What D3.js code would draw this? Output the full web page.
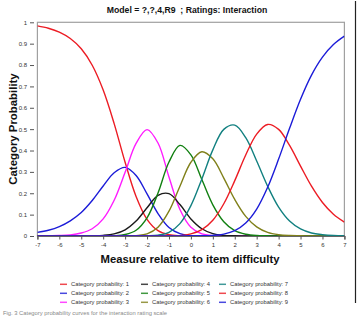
<!DOCTYPE html>
<html>
<head>
<script src="https://cdn.jsdelivr.net/npm/d3@7"></script>
<style>
body { margin: 0; background: #fff; }
svg text { font-family: 'Liberation Sans', Arial, Helvetica, sans-serif; }
</style>
</head>
<body>
<div id="chart"></div>
<script>
// measure relative to item difficulty, sampled every 0.5 logits
var measures = [-7, -6.5, -6, -5.5, -5, -4.5, -4, -3.5, -3, -2.5, -2, -1.5, -1, -0.5, 0,
                0.5, 1, 1.5, 2, 2.5, 3, 3.5, 4, 4.5, 5, 5.5, 6, 6.5, 7];

// category probabilities
var cat1 = [0.983, 0.972, 0.954, 0.924, 0.876, 0.799, 0.683, 0.526, 0.345, 0.185, 0.078, 0.025, 0.006, 0.001, 0,
            0, 0, 0, 0, 0, 0, 0, 0, 0, 0, 0, 0, 0, 0];
var cat2 = [0.017, 0.027, 0.044, 0.071, 0.110, 0.166, 0.234, 0.296, 0.321, 0.283, 0.197, 0.105, 0.040, 0.011, 0.002,
            0, 0, 0, 0, 0, 0, 0, 0, 0, 0, 0, 0, 0, 0];
var cat3 = [0, 0.001, 0.002, 0.005, 0.014, 0.034, 0.080, 0.167, 0.298, 0.433, 0.498, 0.435, 0.276, 0.124, 0.041,
            0.010, 0.002, 0, 0, 0, 0, 0, 0, 0, 0, 0, 0, 0, 0];
var cat4 = [0, 0, 0, 0, 0, 0.001, 0.003, 0.010, 0.029, 0.070, 0.132, 0.190, 0.198, 0.147, 0.080,
            0.034, 0.011, 0.003, 0.001, 0, 0, 0, 0, 0, 0, 0, 0, 0, 0];
var cat5 = [0, 0, 0, 0, 0, 0, 0, 0.001, 0.007, 0.027, 0.085, 0.201, 0.346, 0.424, 0.380,
            0.264, 0.146, 0.067, 0.025, 0.008, 0.002, 0.001, 0, 0, 0, 0, 0, 0, 0];
var cat6 = [0, 0, 0, 0, 0, 0, 0, 0, 0, 0.002, 0.010, 0.041, 0.116, 0.233, 0.345,
            0.394, 0.361, 0.271, 0.171, 0.092, 0.043, 0.017, 0.006, 0.002, 0.001, 0, 0, 0, 0];
var cat7 = [0, 0, 0, 0, 0, 0, 0, 0, 0, 0, 0.001, 0.004, 0.017, 0.058, 0.142,
            0.267, 0.403, 0.499, 0.519, 0.460, 0.351, 0.233, 0.135, 0.070, 0.033, 0.014, 0.006, 0.002, 0.001];
var cat8 = [0, 0, 0, 0, 0, 0, 0, 0, 0, 0, 0, 0, 0, 0.002, 0.010,
            0.030, 0.074, 0.151, 0.259, 0.379, 0.477, 0.522, 0.499, 0.424, 0.327, 0.233, 0.157, 0.102, 0.065];
var cat9 = [0, 0, 0, 0, 0, 0, 0, 0, 0, 0, 0, 0, 0, 0, 0,
            0.001, 0.003, 0.009, 0.025, 0.061, 0.126, 0.228, 0.360, 0.504, 0.640, 0.753, 0.837, 0.896, 0.935];

var seriesNames = ['Category probability: 1', 'Category probability: 2', 'Category probability: 3',
                   'Category probability: 4', 'Category probability: 5', 'Category probability: 6',
                   'Category probability: 7', 'Category probability: 8', 'Category probability: 9'];
var xTicks = [-7, -6, -5, -4, -3, -2, -1, 0, 1, 2, 3, 4, 5, 6, 7];
var yTicks = [0, 0.1, 0.2, 0.3, 0.4, 0.5, 0.6, 0.7, 0.8, 0.9, 1];

var series = [cat1, cat2, cat3, cat4, cat5, cat6, cat7, cat8, cat9];
var colors = ['#ec1c24', '#1c1cd8', '#ff1cff', '#1a1a1a', '#128012', '#80801a', '#128080', '#ec1c24', '#1c1cd8'];

var W = 358, H = 317;
var svg = d3.select('#chart').append('svg').attr('width', W).attr('height', H);

var x = d3.scaleLinear().domain([-7, 7]).range([37.4, 344.4]);
var y = d3.scaleLinear().domain([0, 1]).range([236, 22.3]);

// plot frame
svg.append('rect')
    .attr('x', x(-7)).attr('y', y(1))
    .attr('width', x(7) - x(-7)).attr('height', y(0) - y(1))
    .attr('fill', 'none').attr('stroke', '#a0a0a0').attr('stroke-width', 1.2);

// title (keeps the double space)
svg.append('text')
    .attr('x', 187).attr('y', 12.7)
    .attr('text-anchor', 'middle').attr('font-size', 8.7).attr('font-weight', 'bold').attr('fill', '#111')
    .style('white-space', 'pre')
    .text('Model = ?,?,4,R9  ; Ratings: Interaction');

// axes (plain hyphen for negatives, like the original)
var yAxis = svg.append('g')
    .attr('transform', 'translate(34,0)')
    .call(d3.axisLeft(y).tickValues(yTicks).tickSize(4).tickPadding(3)
        .tickFormat(function(d){ return String(+d.toFixed(1)); }));
yAxis.select('.domain').remove();
yAxis.selectAll('line').attr('stroke', '#555');
yAxis.selectAll('text').attr('font-size', 6).attr('fill', '#333').style('font-family', 'Liberation Sans, Arial, sans-serif');

var xAxis = svg.append('g')
    .attr('transform', 'translate(0,' + y(0) + ')')
    .call(d3.axisBottom(x).tickValues(xTicks).tickSize(3.5).tickPadding(3.2)
        .tickFormat(function(d){ return String(d); }));
xAxis.select('.domain').attr('stroke', '#666').attr('stroke-width', 1.2);
xAxis.selectAll('line').attr('stroke', '#555');
xAxis.selectAll('text').attr('font-size', 6).attr('fill', '#333').style('font-family', 'Liberation Sans, Arial, sans-serif');

// axis titles
svg.append('text')
    .attr('transform', 'translate(16.6,129) rotate(-90)')
    .attr('text-anchor', 'middle').attr('font-size', 11.4).attr('font-weight', 'bold').attr('fill', '#111')
    .text('Category Probability');
svg.append('text')
    .attr('x', 190).attr('y', 262.7)
    .attr('text-anchor', 'middle').attr('font-size', 11.3).attr('font-weight', 'bold').attr('fill', '#111')
    .text('Measure relative to item difficulty');

// curves
svg.append('clipPath').attr('id', 'plot-clip')
    .append('rect')
    .attr('x', x(-7)).attr('y', y(1) - 1)
    .attr('width', x(7) - x(-7)).attr('height', y(0) - y(1) + 1);

var line = d3.line()
    .x(function(d){ return x(d[0]); })
    .y(function(d){ return y(d[1]); })
    .curve(d3.curveCatmullRom.alpha(0.5));

var curves = svg.append('g').attr('clip-path', 'url(#plot-clip)');
series.forEach(function(vals, k) {
    curves.append('path')
        .attr('d', line(measures.map(function(m, i){ return [m, vals[i]]; })))
        .attr('fill', 'none')
        .attr('stroke', colors[k])
        .attr('stroke-width', 1.4);
});

// legend, filled column by column
var LEGEND_COLS = [60, 141, 219];
var LEGEND_ROWS = [284.3, 293.3, 302.3];
seriesNames.forEach(function(name, k) {
    var lx = LEGEND_COLS[Math.floor(k / 3)];
    var ly = LEGEND_ROWS[k % 3];
    svg.append('line')
        .attr('x1', lx).attr('x2', lx + 7).attr('y1', ly).attr('y2', ly)
        .attr('stroke', colors[k]).attr('stroke-width', 1.5).attr('opacity', 0.8);
    svg.append('text')
        .attr('x', lx + 11).attr('y', ly + 2)
        .attr('font-size', 5.8).attr('fill', '#333')
        .text(name);
});

// figure frame edge and caption
svg.append('line')
    .attr('x1', 355.5).attr('x2', 355.5).attr('y1', 1).attr('y2', 303)
    .attr('stroke', '#222').attr('stroke-width', 1.2);
svg.append('text')
    .attr('x', 3).attr('y', 315)
    .attr('font-size', 5.8).attr('fill', '#888')
    .text('Fig. 3  Category probability curves for the interaction rating scale');
</script>
</body>
</html>
